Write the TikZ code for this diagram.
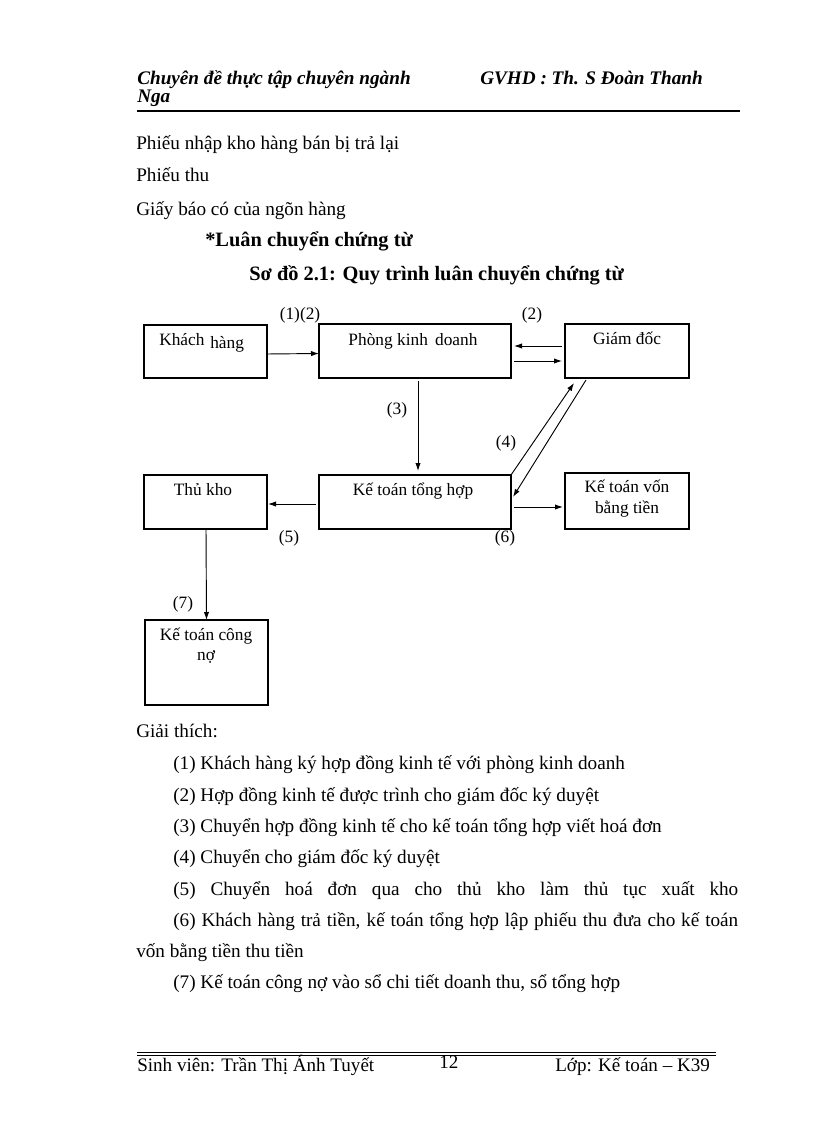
\documentclass[tikz,border=0pt]{standalone}
\usepackage{fontspec}
\setmainfont{Liberation Serif}
\usetikzlibrary{arrows.meta,calc}
\begin{document}
\begin{tikzpicture}[x=0.75pt,y=-0.75pt,
  box/.style={draw, line width=0.8pt, inner sep=0pt, outer sep=0pt},
  btext/.style={font=\fontsize{13}{15}\selectfont, inner sep=0pt, anchor=base},
  body/.style={font=\fontsize{14.4}{17}\selectfont, inner sep=0pt, anchor=base west},
  hdr/.style={font=\fontsize{14.4}{17}\selectfont\bfseries\itshape, inner sep=0pt, anchor=base west},
  bold/.style={font=\fontsize{15.3}{18}\selectfont\bfseries, inner sep=0pt, anchor=base west},
  foot/.style={font=\fontsize{14.3}{16}\selectfont, inner sep=0pt, anchor=base west},
  lbl/.style={font=\fontsize{13}{15}\selectfont, inner sep=0pt},
  arr/.style={-{Latex[length=6pt,width=4pt]}, line width=0.7pt}]
\useasboundingbox[fill=white] (0,0) rectangle (816,1123);

% header
\node[hdr] (h1) at (137,85) {Chuyên đề thực tập chuyên ngành};
\node[hdr] (h2) at (480,85) {GVHD : Th. S Đoàn Thanh};
\node[hdr] (h3) at (137,103) {Nga};
\draw[line width=1.5pt] (137,111) -- (740,111);

% intro text
\node[body] (p1) at (136,150) {Phiếu nhập kho hàng bán bị trả lại};
\node[body] (p2) at (136,182) {Phiếu thu};
\node[body] (p3) at (136,215) {Giấy báo có của ngõn hàng};
\node[bold] (p4) at (205,247) {*Luân chuyển chứng từ};
\node[bold] (p5) at (249,280) {Sơ đồ 2.1: Quy trình luân chuyển chứng từ};

% boxes
\node[box, minimum width=92.25pt, minimum height=39.75pt] (kh) at (205.5,351.5) {};
\node[box, minimum width=144pt, minimum height=40.5pt] (pk) at (415,351) {};
\node[box, minimum width=93pt, minimum height=40.5pt] (gd) at (627,351) {};
\node[box, minimum width=92.25pt, minimum height=40.5pt] (tk) at (205.5,502) {};
\node[box, minimum width=144pt, minimum height=40.5pt] (kt) at (415,502) {};
\node[box, minimum width=93pt, minimum height=42pt] (kv) at (627,501) {};
\node[box, minimum width=92.25pt, minimum height=63.75pt] (kc) at (206.5,662.5) {};

% box texts
\node[btext, anchor=base west] (tkh1) at (159,345) {Khách};
\node[btext, anchor=base west] (tkh2) at (210,348) {hàng};
\node[btext] (tpk) at (413,345) {Phòng kinh\, doanh};
\node[btext] (tgd) at (627,344) {Giám đốc};
\node[btext] (ttk) at (203,495) {Thủ kho};
\node[btext] (tkt) at (413,495) {Kế toán tổng hợp};
\node[btext] (tkv1) at (627,492) {Kế toán vốn};
\node[btext] (tkv2) at (627,513) {bằng tiền};
\node[btext] (tkc1) at (206,640) {Kế toán công};
\node[btext] (tkc2) at (206,660) {nợ};

% connector labels
\node[lbl] (l12) at (300,315) {(1)(2)};
\node[lbl] (l2) at (532,315) {(2)};
\node[lbl] (l3) at (397,410) {(3)};
\node[lbl] (l4) at (506,443) {(4)};
\node[lbl] (l5) at (289,538) {(5)};
\node[lbl] (l6) at (505,538) {(6)};
\node[lbl] (l7) at (183,604) {(7)};

% connectors
\draw[arr] ($(kh.east)+(0,2.5)$) -- ($(pk.west)+(0,2.5)$);
\draw[arr] ($(gd.west)+(-3,-5)$) -- ($(pk.east)+(3,-5)$);
\draw[arr] ($(pk.east)+(3,10)$) -- ($(gd.west)+(-3,10)$);
\draw[arr] ($(pk.south)+(3,3)$) -- ($(kt.north)+(3,-4)$);
\draw[arr] (kt.north east) -- ($(gd.south west)+(9,5)$);
\draw[arr] ($(gd.south west)+(21,2)$) -- ($(kt.north east)+(2,22)$);
\draw[arr] ($(kt.west)+(-3,2)$) -- ($(tk.east)+(1,2)$);
\draw[arr] ($(kt.east)+(3,5)$) -- ($(kv.west)+(-2,6)$);
\draw[arr] ($(tk.south)+(0.5,0)$) -- (kc.north);

% explanations
\node[body] (g0) at (136,737) {Giải thích:};
\node[body] (g1) at (173,769) {(1) Khách hàng ký hợp đồng kinh tế với phòng kinh doanh};
\node[body] (g2) at (173,801) {(2) Hợp đồng kinh tế được trình cho giám đốc ký duyệt};
\node[body] (g3) at (173,832) {(3) Chuyển hợp đồng kinh tế cho kế toán tổng hợp viết hoá đơn};
\node[body] (g4) at (173,863) {(4) Chuyển cho giám đốc ký duyệt};
\node[body] (g5) at (173,895) {\hbox to 423.75pt{(5) Chuyển hoá đơn qua cho thủ kho làm thủ tục xuất kho}};
\node[body] (g6) at (173,926) {\hbox to 423.75pt{(6) Khách hàng trả tiền, kế toán tổng hợp lập phiếu thu đưa cho kế toán}};
\node[body] (g6b) at (136,957) {vốn bằng tiền thu tiền};
\node[body] (g7) at (173,988) {(7) Kế toán công nợ vào sổ chi tiết doanh thu, sổ tổng hợp};

% footer
\draw[line width=0.7pt] (137,1052) -- (716,1052);
\draw[line width=0.7pt] (137,1055) -- (716,1055);
\node[foot] (f1) at (137,1071) {Sinh viên: Trần Thị Ánh Tuyết};
\node[foot] (f2) at (439,1068) {12};
\node[foot] (f3) at (555,1071) {Lớp: Kế toán – K39};
\end{tikzpicture}
\end{document}
